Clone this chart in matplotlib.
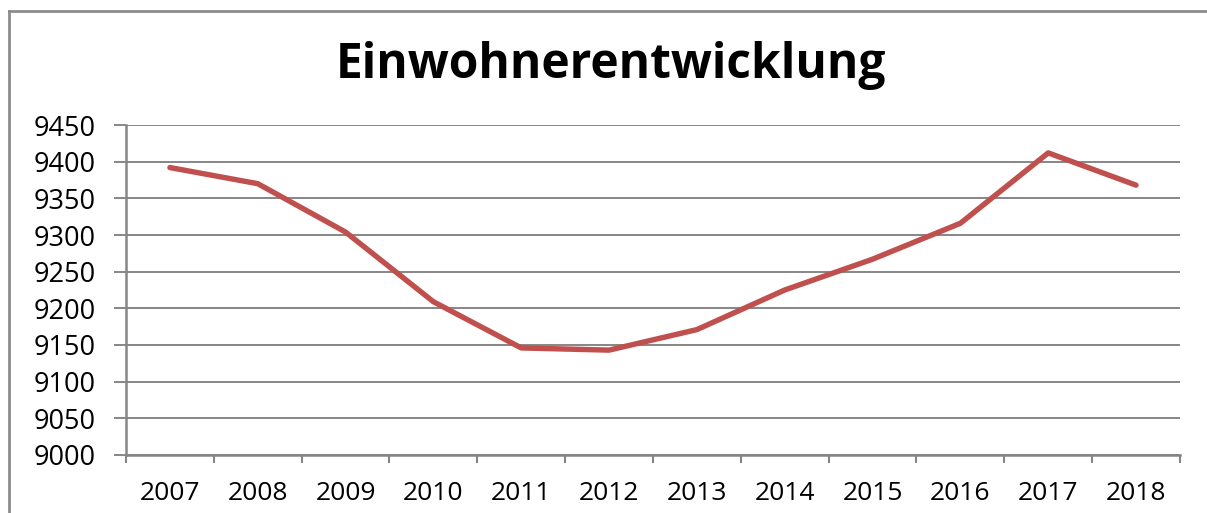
import matplotlib.pyplot as plt
from matplotlib.lines import Line2D
import numpy as np

years = ["2007", "2008", "2009", "2010", "2011", "2012",
         "2013", "2014", "2015", "2016", "2017", "2018"]
einwohner = [9392, 9370, 9304, 9209, 9146, 9143,
             9171, 9225, 9267, 9316, 9412, 9368]
y_ticks = list(range(9000, 9451, 50))

plt.rcParams["font.family"] = ["Open Sans", "DejaVu Sans"]

fig = plt.figure(figsize=(12.07, 5.13), dpi=100)
ax = fig.add_axes([0.1044, 0.1131, 0.8732, 0.6432])

grid_col = "#868686"
x = np.arange(len(years))
ax.plot(x, einwohner, color="#C0504D", linewidth=3.9, solid_capstyle="round",
        solid_joinstyle="round", zorder=3)

ax.set_xlim(-0.5, len(years) - 0.5)
ax.set_ylim(9000, 9450)
ax.set_yticks(y_ticks)
ax.set_yticklabels([str(v) for v in y_ticks], fontsize=19.5)
ax.yaxis.grid(True, color=grid_col, linewidth=1.4)
ax.set_axisbelow(True)

ax.set_xticks(x)
ax.set_xticklabels(years, fontsize=19)
ax.set_xticks(np.arange(-0.5, len(years)), minor=True)
ax.tick_params(axis="x", which="major", length=0, pad=18.5)
ax.tick_params(axis="x", which="minor", length=6, width=1.5, color=grid_col)
ax.tick_params(axis="y", length=8.6, width=1.4, color=grid_col, pad=13)

for side in ["top", "right"]:
    ax.spines[side].set_visible(False)
for side in ["left", "bottom"]:
    ax.spines[side].set_color(grid_col)
    ax.spines[side].set_linewidth(1.8)

fig.text(0.506, 0.872, "Einwohnerentwicklung", ha="center", va="center",
         fontsize=34.5, fontweight="bold")

# chart border (partly outside the picture)
fig.add_artist(Line2D([9 / 1207, 1.0], [1 - 11 / 513, 1 - 11 / 513],
                      transform=fig.transFigure, color="#8c8c8c", linewidth=2))
fig.add_artist(Line2D([9 / 1207, 9 / 1207], [0, 1 - 11 / 513],
                      transform=fig.transFigure, color="#8c8c8c", linewidth=2))

fig.savefig("out.png", dpi=100)
